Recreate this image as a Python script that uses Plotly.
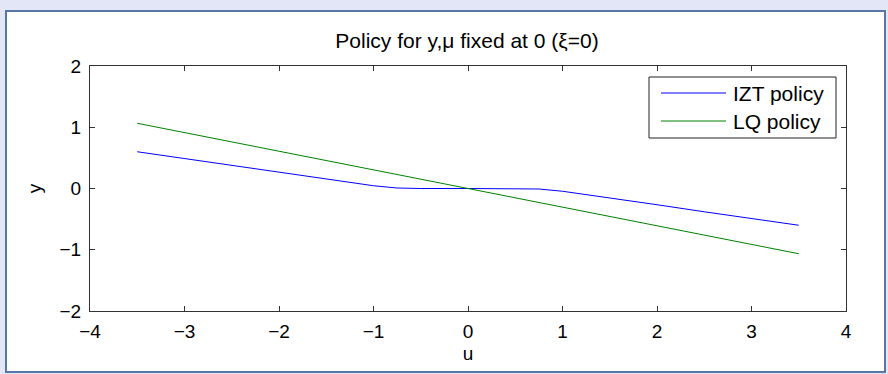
import plotly.graph_objects as go

# ---- data ----
u_izt = [-3.5, -3.0, -2.5, -2.0, -1.5, -1.0, -0.75, -0.5, 0.0, 0.5, 0.75, 1.0, 1.5, 2.0, 2.5, 3.0, 3.5]
y_izt = [0.60, 0.49, 0.38, 0.265, 0.15, 0.045, 0.008, 0.0, 0.0, 0.0, -0.008, -0.045, -0.15, -0.265, -0.38, -0.49, -0.60]
u_lq = [-3.5, 3.5]
y_lq = [1.065, -1.065]
series_names = ["IZT policy", "LQ policy"]
series_colors = ["#0000ff", "#008000"]
x_ticks = [-4, -3, -2, -1, 0, 1, 2, 3, 4]
y_ticks = [-2, -1, 0, 1, 2]
title_text = "Policy for y,\u03bc fixed at 0 (\u03be=0)"
x_label = "u"
y_label = "y"

FONT = "Arial, Liberation Sans, sans-serif"
W, H = 888, 374
L, R, T, B = 90, 42, 66, 63
PW, PH = W - L - R, H - T - B

def px_x(p):
    return (p - L) / PW

def px_y(p):
    return (H - B - p) / PH

fig = go.Figure()
fig.add_trace(go.Scatter(x=u_izt, y=y_izt, mode="lines", name=series_names[0],
                         line=dict(color=series_colors[0], width=1), showlegend=False))
fig.add_trace(go.Scatter(x=u_lq, y=y_lq, mode="lines", name=series_names[1],
                         line=dict(color=series_colors[1], width=1), showlegend=False))

axis_common = dict(showgrid=False, zeroline=False, showline=True, linecolor="#333333", linewidth=1,
                   mirror="ticks", ticks="inside", ticklen=5, tickcolor="#333333",
                   tickfont=dict(family=FONT, size=19, color="black"))

fig.update_xaxes(range=[-4, 4], tickvals=x_ticks, ticktext=[str(v).replace("-", "\u2212") for v in x_ticks],
                 ticklabelstandoff=3,
                 title=dict(text=x_label, font=dict(family=FONT, size=19, color="black"), standoff=5),
                 **axis_common)
fig.update_yaxes(range=[-2, 2], tickvals=y_ticks, ticktext=[str(v).replace("-", "\u2212") for v in y_ticks],
                 ticklabelstandoff=4,
                 title=dict(text=y_label, font=dict(family=FONT, size=19, color="black"), standoff=12),
                 **axis_common)

shapes = [
    # white figure panel with border
    dict(type="rect", xref="paper", yref="paper", layer="below",
         x0=px_x(6), x1=px_x(885), y0=px_y(372), y1=px_y(11),
         fillcolor="white", line=dict(color="#5677a8", width=2)),
    # legend box
    dict(type="rect", xref="paper", yref="paper",
         x0=px_x(649), x1=px_x(836), y0=px_y(138), y1=px_y(77),
         fillcolor="white", line=dict(color="#222222", width=1)),
]
annotations = []
rows = [93, 121]
for name, color, ry in zip(series_names, series_colors, rows):
    shapes.append(dict(type="line", xref="paper", yref="paper",
                       x0=px_x(661), x1=px_x(726), y0=px_y(ry), y1=px_y(ry),
                       line=dict(color=color, width=1)))
    annotations.append(dict(text=name, xref="paper", yref="paper", x=px_x(731), y=px_y(ry),
                            xanchor="left", yanchor="middle", showarrow=False,
                            font=dict(family=FONT, size=21, color="black")))

fig.update_layout(
    width=W, height=H,
    margin=dict(l=L, r=R, t=T, b=B, autoexpand=False),
    paper_bgcolor="#e3e6f7",
    plot_bgcolor="white",
    title=dict(text=title_text, x=px_x(467), xref="paper", xanchor="center",
               y=1 - 41 / H, yref="container", yanchor="middle",
               font=dict(family=FONT, size=21, color="black")),
    shapes=shapes,
    annotations=annotations,
    showlegend=False,
)

fig.write_html("out.html")
